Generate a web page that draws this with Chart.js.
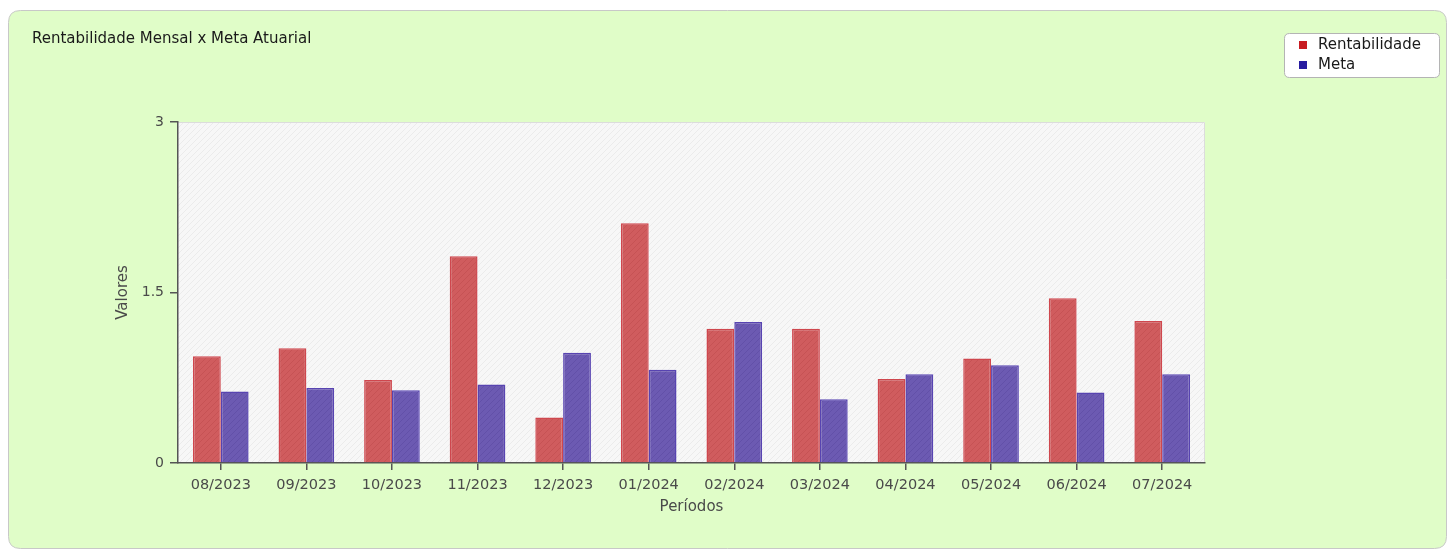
<!DOCTYPE html>
<html>
<head>
<meta charset="utf-8">
<script src="https://cdn.jsdelivr.net/npm/chart.js@4.4.1/dist/chart.umd.min.js"></script>
<style>
  body { margin: 0; background: #ffffff; }
  #wrap { width: 1449px; height: 551px; }
</style>
</head>
<body>
<div id="wrap"><canvas id="chart" width="1449" height="551"></canvas></div>
<script>
// Dados
const periodos = ["08/2023", "09/2023", "10/2023", "11/2023", "12/2023", "01/2024",
  "02/2024", "03/2024", "04/2024", "05/2024", "06/2024", "07/2024"];
const rentabilidade = [0.94, 1.01, 0.73, 1.82, 0.40, 2.11, 1.18, 1.18, 0.74, 0.92, 1.45, 1.25];
const meta = [0.63, 0.66, 0.64, 0.69, 0.97, 0.82, 1.24, 0.56, 0.78, 0.86, 0.62, 0.78];
const yTicks = [0, 1.5, 3];

const titulo = "Rentabilidade Mensal x Meta Atuarial";
const fonte = "'DejaVu Sans', Verdana, sans-serif";

// hachura diagonal
const makeHatch = (base, line) => {
  const c = document.createElement("canvas");
  c.width = 6;
  c.height = 6;
  const g = c.getContext("2d");
  g.fillStyle = base;
  g.fillRect(0, 0, 6, 6);
  g.strokeStyle = line;
  g.lineWidth = 1;
  g.beginPath();
  g.moveTo(0, 6); g.lineTo(6, 0);
  g.moveTo(-3, 3); g.lineTo(3, -3);
  g.moveTo(3, 9); g.lineTo(9, 3);
  g.stroke();
  return g.createPattern(c, "repeat");
};

const ctx = document.getElementById("chart").getContext("2d");
const fundoPlot = makeHatch("#f7f7f7", "#ebebeb");
const fillRed = makeHatch("rgb(208,92,94)", "rgb(198,82,84)");
const fillBlue = makeHatch("rgb(108,90,178)", "rgb(98,80,168)");

const roundRect = (g, x, y, w, h, r) => {
  g.beginPath();
  g.moveTo(x + r, y);
  g.lineTo(x + w - r, y);
  g.quadraticCurveTo(x + w, y, x + w, y + r);
  g.lineTo(x + w, y + h - r);
  g.quadraticCurveTo(x + w, y + h, x + w - r, y + h);
  g.lineTo(x + r, y + h);
  g.quadraticCurveTo(x, y + h, x, y + h - r);
  g.lineTo(x, y + r);
  g.quadraticCurveTo(x, y, x + r, y);
  g.closePath();
};

const painel = {
  id: "painel",
  beforeDraw(chart) {
    const g = chart.ctx;
    const a = chart.chartArea;
    g.save();
    roundRect(g, 8.5, 10.5, 1438, 538, 12);
    g.fillStyle = "rgb(224,253,200)";
    g.fill();
    g.strokeStyle = "#c8c8c8";
    g.lineWidth = 1;
    g.stroke();

    g.fillStyle = fundoPlot;
    g.fillRect(a.left, a.top, a.right - a.left, a.bottom - a.top);
    g.strokeStyle = "#dcdcdc";
    g.beginPath();
    g.moveTo(a.left, a.top + 0.5);
    g.lineTo(a.right - 0.5, a.top + 0.5);
    g.lineTo(a.right - 0.5, a.bottom);
    g.stroke();
    g.restore();
  },
  afterDraw(chart) {
    const g = chart.ctx;
    g.save();
    // título
    g.font = "15px " + fonte;
    g.fillStyle = "#1a1a1a";
    g.textBaseline = "middle";
    g.textAlign = "left";
    g.fillText(titulo, 32, 39);

    // legenda
    roundRect(g, 1284.5, 33.5, 155, 44, 5);
    g.fillStyle = "#ffffff";
    g.fill();
    g.strokeStyle = "#b4b4b4";
    g.stroke();
    const cores = ["rgb(200,28,34)", "rgb(40,28,160)"];
    chart.data.datasets.forEach((ds, i) => {
      const y = 45 + i * 20;
      g.fillStyle = cores[i];
      g.fillRect(1299, y - 4, 8, 8);
      g.fillStyle = "#1a1a1a";
      g.font = "15px " + fonte;
      g.fillText(ds.label, 1318, y);
    });
    g.restore();
  }
};

const data = {
  labels: periodos,
  datasets: [
    {
      label: "Rentabilidade",
      data: rentabilidade,
      backgroundColor: fillRed,
      borderColor: "rgba(200,40,48,0.85)",
      borderWidth: 1.5,
      borderSkipped: "bottom"
    },
    {
      label: "Meta",
      data: meta,
      backgroundColor: fillBlue,
      borderColor: "rgba(60,36,165,0.85)",
      borderWidth: 1.5,
      borderSkipped: "bottom"
    }
  ]
};

const config = {
  type: "bar",
  data: data,
  plugins: [painel],
  options: {
    responsive: false,
    animation: false,
    layout: { padding: { left: 110, top: 122, right: 244, bottom: 31 } },
    datasets: { bar: { categoryPercentage: 0.65, barPercentage: 1.0 } },
    plugins: {
      legend: { display: false },
      title: { display: false },
      tooltip: { enabled: false }
    },
    scales: {
      x: {
        afterFit: (s) => { s.height = 57; },
        grid: { offset: false, drawOnChartArea: false, tickLength: 7, color: "#555", lineWidth: 1.5 },
        border: { color: "#555", width: 1.5 },
        ticks: { color: "#4a4a4a", padding: 7, font: { family: fonte, size: 14.5 }, maxRotation: 0 },
        title: { display: true, text: "Períodos", color: "#4a4a4a", padding: 4, font: { family: fonte, size: 15 } }
      },
      y: {
        min: 0,
        max: 3,
        afterFit: (s) => { s.width = 68; },
        afterBuildTicks: (s) => { s.ticks = yTicks.map((v) => ({ value: v })); },
        grid: { drawOnChartArea: false, tickLength: 8, color: "#555", lineWidth: 1.5 },
        border: { color: "#555", width: 1.5 },
        ticks: { color: "#4a4a4a", padding: 6, font: { family: fonte, size: 14 } },
        title: { display: true, text: "Valores", color: "#4a4a4a", padding: 4, font: { family: fonte, size: 15 } }
      }
    }
  }
};

const myChart = new Chart(ctx, config);
</script>
</body>
</html>
